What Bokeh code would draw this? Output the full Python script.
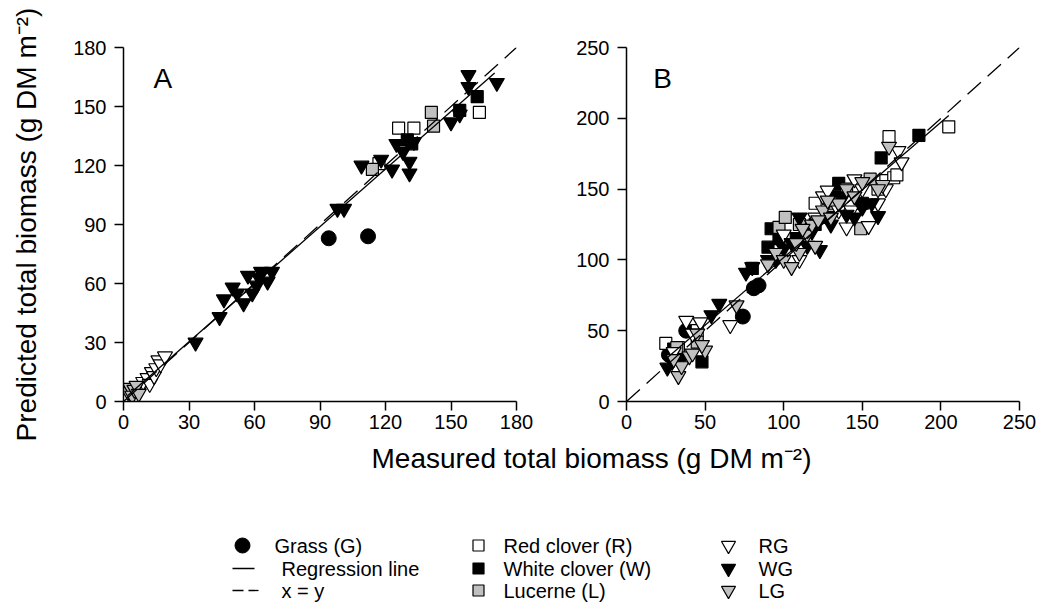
import math
from bokeh.plotting import figure
from bokeh.layouts import row, column
from bokeh.models import Range1d, FixedTicker
from bokeh.core.properties import value
from bokeh.embed import file_html
from bokeh.resources import INLINE

FONT = "Liberation Sans"
GRAY = "#c0c0c0"

# ---------------- Panel A data ----------------
a_grass_x = [94, 112]
a_grass_y = [83, 84]
a_red_x = [117, 126, 133, 163]
a_red_y = [121, 139, 139, 147]
a_white_x = [130, 132, 154, 162]
a_white_y = [133, 131, 148, 155]
a_luc_x = [114, 141, 142]
a_luc_y = [118, 147, 140]
a_rg_x = [3, 5, 6, 8, 9, 11, 12, 13, 14, 15, 16, 17, 19]
a_rg_y = [4, 6, 3, 7, 10, 12, 9, 15, 13, 17, 21, 19, 23]
a_wg_x = [2, 4, 33, 44, 46, 50, 55, 57, 59, 61, 63, 66, 68, 62, 52,
          98, 101, 109, 118, 123, 125, 128, 131, 131, 133, 150, 154, 158, 158, 171]
a_wg_y = [6, 4, 30, 43, 52, 58, 50, 64, 55, 59, 66, 61, 66, 63, 55,
          98, 98, 120, 123, 118, 131, 127, 122, 116, 132, 142, 146, 166, 160, 162]
a_lg_x = [2, 3, 4, 5, 6, 7]
a_lg_y = [5, 7, 3, 6, 8, 4]
a_reg_x = [2, 170]
a_reg_y = [3, 167]
a_xy = [0, 180]
a_ticks = [0, 30, 60, 90, 120, 150, 180]

# ---------------- Panel B data ----------------
b_grass_x = [27, 38, 74, 81, 84]
b_grass_y = [33, 50, 60, 80, 82]
b_red_x = [25, 33, 45, 120, 160, 165, 170, 172, 167, 205]
b_red_y = [41, 38, 50, 140, 150, 156, 158, 160, 187, 194]
b_white_x = [48, 30, 80, 90, 92, 97, 108, 120, 128, 133, 135, 150, 162, 186]
b_white_y = [28, 37, 94, 109, 122, 115, 115, 125, 130, 145, 154, 140, 172, 188]
b_luc_x = [32, 45, 97, 101, 110, 130, 140, 149, 155]
b_luc_y = [38, 42, 123, 130, 125, 140, 150, 122, 157]
b_rg_x = [30, 38, 47, 42, 66, 100, 110, 120, 125, 128, 135, 140, 143, 145, 150, 154, 160, 165, 173, 175]
b_rg_y = [35, 57, 56, 48, 54, 118, 100, 130, 145, 149, 135, 123, 135, 157, 150, 124, 140, 150, 177, 169]
b_wg_x = [26, 29, 35, 54, 59, 76, 80, 90, 95, 100, 105, 110, 115, 118, 123, 130, 138, 140, 145, 150, 156, 160]
b_wg_y = [24, 28, 30, 61, 69, 91, 95, 100, 100, 108, 112, 130, 110, 120, 107, 125, 145, 132, 130, 137, 140, 131]
b_lg_x = [33, 35, 40, 42, 45, 50, 48, 30, 70, 90, 95, 100, 105, 110, 115, 118, 120, 125, 130, 135,
          140, 145, 150, 163, 167, 160, 128, 122, 108, 112]
b_lg_y = [18, 25, 32, 34, 48, 36, 40, 30, 68, 97, 105, 100, 95, 105, 118, 125, 110, 135, 130, 140,
          150, 145, 155, 153, 180, 150, 142, 128, 112, 122]
b_reg_x = [25, 205]
b_reg_y = [30, 202]
b_xy = [0, 250]
b_ticks = [0, 50, 100, 150, 200, 250]

# ---------------- Text ----------------
y_title = "Predicted total biomass (g DM m\u207b\u00b2)"
x_title = "Measured total biomass (g DM m\u207b\u00b2)"
panel_letters = ["A", "B"]
legend_col1 = ["Grass (G)", "Regression line", "x = y"]
legend_col2 = ["Red clover (R)", "White clover (W)", "Lucerne (L)"]
legend_col3 = ["RG", "WG", "LG"]


def make_panel(vmax, ticks, mbl, mbr):
    p = figure(frame_width=393, frame_height=354,
               x_range=Range1d(0, vmax), y_range=Range1d(0, vmax),
               output_backend="svg", toolbar_location=None,
               min_border_left=mbl, min_border_right=mbr,
               min_border_top=47, min_border_bottom=40)
    p.outline_line_color = None
    p.xgrid.visible = False
    p.ygrid.visible = False
    p.background_fill_color = "white"
    p.border_fill_color = "white"
    for ax in (p.xaxis[0], p.yaxis[0]):
        ax.ticker = FixedTicker(ticks=ticks)
        ax.major_tick_in = 0
        ax.major_tick_out = 9
        ax.minor_tick_in = 0
        ax.minor_tick_out = 0
        ax.axis_line_width = 1.5
        ax.axis_line_color = "black"
        ax.major_tick_line_width = 1.5
        ax.major_tick_line_color = "black"
        ax.major_label_text_font = FONT
        ax.major_label_text_font_size = "20px"
        ax.major_label_text_color = "black"
    p.yaxis.major_label_standoff = 8
    p.xaxis.major_label_standoff = 4
    return p


def add_points(p, gx, gy, rx, ry, wx, wy, lx, ly, rgx, rgy, wgx, wgy, lgx, lgy):
    p.scatter(gx, gy, marker="circle", size=15, fill_color="black", line_color="black")
    p.scatter(rx, ry, marker="square", size=12, fill_color="white", line_color="black", line_width=1.2)
    p.scatter(wx, wy, marker="square", size=12, fill_color="black", line_color="black", line_width=1.2)
    p.scatter(lx, ly, marker="square", size=12, fill_color=GRAY, line_color="black", line_width=1.2)
    p.scatter(rgx, rgy, marker="inverted_triangle", size=15, fill_color="white", line_color="black", line_width=1.2)
    p.scatter(wgx, wgy, marker="inverted_triangle", size=15, fill_color="black", line_color="black", line_width=1.2)
    p.scatter(lgx, lgy, marker="inverted_triangle", size=15, fill_color=GRAY, line_color="black", line_width=1.2)


DASH = "18 9"

# Panel A
pa = make_panel(180, a_ticks, 123, 20)
add_points(pa, a_grass_x, a_grass_y, a_red_x, a_red_y, a_white_x, a_white_y, a_luc_x, a_luc_y,
           a_rg_x, a_rg_y, a_wg_x, a_wg_y, a_lg_x, a_lg_y)
pa.line(a_reg_x, a_reg_y, line_color="black", line_width=1.3)
pa.line(a_xy, a_xy, line_color="black", line_width=1.3, line_dash=DASH)
pa.yaxis.axis_label = y_title
pa.yaxis.axis_label_text_font = FONT
pa.yaxis.axis_label_text_font_size = "28px"
pa.yaxis.axis_label_text_font_style = "normal"
pa.yaxis.axis_label_text_color = "black"
pa.yaxis.axis_label_standoff = 28
pa.text(x=[18], y=[164], text=[panel_letters[0]], text_font=value(FONT), text_font_size="28px",
        text_align="center", text_baseline="middle", text_color="black")

# Panel B
pb = make_panel(250, b_ticks, 90, 21)
add_points(pb, b_grass_x, b_grass_y, b_red_x, b_red_y, b_white_x, b_white_y, b_luc_x, b_luc_y,
           b_rg_x, b_rg_y, b_wg_x, b_wg_y, b_lg_x, b_lg_y)
pb.line(b_reg_x, b_reg_y, line_color="black", line_width=1.3)
pb.line(b_xy, b_xy, line_color="black", line_width=1.3, line_dash=DASH)
pb.text(x=[23], y=[228], text=[panel_letters[1]], text_font=value(FONT), text_font_size="28px",
        text_align="center", text_baseline="middle", text_color="black")

# Bottom strip: shared x title and legend (screen-like coordinates)
H = 162
pl = figure(width=1040, height=H, x_range=Range1d(0, 1040), y_range=Range1d(H, 0),
            output_backend="svg", toolbar_location=None,
            min_border_left=0, min_border_right=0, min_border_top=0, min_border_bottom=0)
pl.axis.visible = False
pl.grid.visible = False
pl.outline_line_color = None
pl.background_fill_color = "white"
pl.border_fill_color = "white"

pl.text(x=[591], y=[17], text=[x_title], text_font=value(FONT), text_font_size="28px",
        text_align="center", text_baseline="middle", text_color="black")

rows_y = [104, 127, 149]
# column 1
pl.scatter([242], [rows_y[0]], marker="circle", size=15, fill_color="black", line_color="black")
pl.line([232, 254], [rows_y[1], rows_y[1]], line_color="black", line_width=1.3)
pl.line([232, 258], [rows_y[2], rows_y[2]], line_color="black", line_width=1.3, line_dash="11 5")
pl.text(x=[274, 281, 281], y=rows_y, text=legend_col1, text_font=value(FONT), text_font_size="20px",
        text_align="left", text_baseline="middle", text_color="black")
# column 2
pl.scatter([478] * 3, rows_y, marker="square", size=11, fill_color=["white", "black", GRAY],
           line_color="black", line_width=1.2)
pl.text(x=[503] * 3, y=rows_y, text=legend_col2, text_font=value(FONT), text_font_size="20px",
        text_align="left", text_baseline="middle", text_color="black")
# column 3
pl.scatter([728] * 3, rows_y, marker="inverted_triangle", size=14, fill_color=["white", "black", GRAY],
           line_color="black", line_width=1.2)
pl.text(x=[758] * 3, y=rows_y, text=legend_col3, text_font=value(FONT), text_font_size="20px",
        text_align="left", text_baseline="middle", text_color="black")

layout = column(row(pa, pb), pl)
open("out.html", "w").write(file_html(layout, INLINE))
